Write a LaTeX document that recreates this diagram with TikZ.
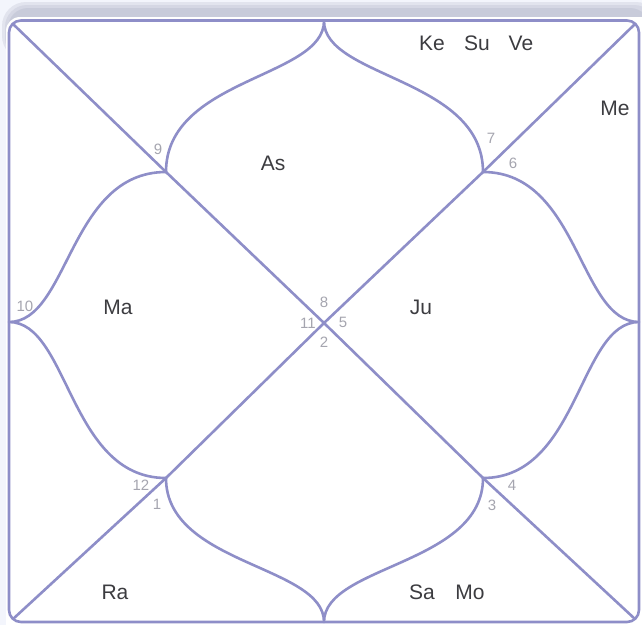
\documentclass[tikz,border=0pt]{standalone}
\usepackage{fontspec}
\setmainfont{Liberation Sans}
\definecolor{bgc}{RGB}{243,245,252}
\definecolor{shadowc}{RGB}{200,203,218}
\definecolor{linec}{RGB}{142,142,200}
\definecolor{planetc}{RGB}{60,60,64}
\definecolor{numc}{RGB}{165,165,175}
\tikzset{
  chartline/.style={draw=linec, line width=2.6pt, line join=round, line cap=round},
  planet/.style={text=planetc, font=\fontsize{21}{25}\selectfont, inner sep=0pt},
  housenum/.style={text=numc, font=\fontsize{15}{17}\selectfont, inner sep=0pt}
}
\begin{document}
\begin{tikzpicture}[x=1pt,y=-1pt]
\useasboundingbox (0,0) rectangle (642,625);
% background and card
\fill[bgc] (0,0) rectangle (642,625);
\fill[shadowc!40!bgc, rounded corners=24pt] (2,2) rectangle (660,60);
\fill[shadowc!70!bgc, rounded corners=22pt] (5,5) rectangle (656,60);
\fill[shadowc, rounded corners=20pt] (8,8) rectangle (650,60);
\fill[white, rounded corners=14pt] (6,17) rectangle (660,660);
% key points
\coordinate (tl) at (13,24);
\coordinate (tr) at (635,24);
\coordinate (bl) at (13,619);
\coordinate (br) at (635,619);
\coordinate (c) at (324,323);
\coordinate (qtl) at (166,172);
\coordinate (qtr) at (483,172);
\coordinate (qbl) at (166,478);
\coordinate (qbr) at (483,478);
\coordinate (mt) at (324,21);
\coordinate (ml) at (9,322);
\coordinate (mr) at (639,322);
\coordinate (mb) at (324,622);
% frame
\draw[chartline, rounded corners=12pt] (9,20.5) rectangle (639,622);
% diagonals
\draw[chartline] (tl) -- (qtl) -- (c) -- (qbr) -- (br);
\draw[chartline] (tr) -- (qtr) -- (c) -- (qbl) -- (bl);
% lobes
\draw[chartline] (qtl) .. controls (166,78) and (324,78) .. (mt)
                       .. controls (324,78) and (483,78) .. (qtr);
\draw[chartline] (qtl) .. controls (69,172) and (69,322) .. (ml)
                       .. controls (69,322) and (69,478) .. (qbl);
\draw[chartline] (qtr) .. controls (579,172) and (579,322) .. (mr)
                       .. controls (579,322) and (579,478) .. (qbr);
\draw[chartline] (qbl) .. controls (166,565) and (324,565) .. (mb)
                       .. controls (324,565) and (483,565) .. (qbr);
% planets
\node[planet] (ke) at (432,43) {Ke};
\node[planet] (su) at (477,43) {Su};
\node[planet] (ve) at (521,43) {Ve};
\node[planet] (me) at (615,108) {Me};
\node[planet] (as) at (273,163) {As};
\node[planet] (ma) at (118,307) {Ma};
\node[planet] (ju) at (421,307) {Ju};
\node[planet] (ra) at (115,592) {Ra};
\node[planet] (sa) at (422,592) {Sa};
\node[planet] (mo) at (470,592) {Mo};
% house numbers
\node[housenum] (h1) at (157,504) {1};
\node[housenum] (h2) at (324,342) {2};
\node[housenum] (h3) at (492,505) {3};
\node[housenum] (h4) at (512,485) {4};
\node[housenum] (h5) at (343,322) {5};
\node[housenum] (h6) at (513,163) {6};
\node[housenum] (h7) at (491,138) {7};
\node[housenum] (h8) at (324,302) {8};
\node[housenum] (h9) at (158,149) {9};
\node[housenum] (h10) at (25,306) {10};
\node[housenum] (h11) at (308,323) {11};
\node[housenum] (h12) at (141,485) {12};
\end{tikzpicture}
\end{document}
